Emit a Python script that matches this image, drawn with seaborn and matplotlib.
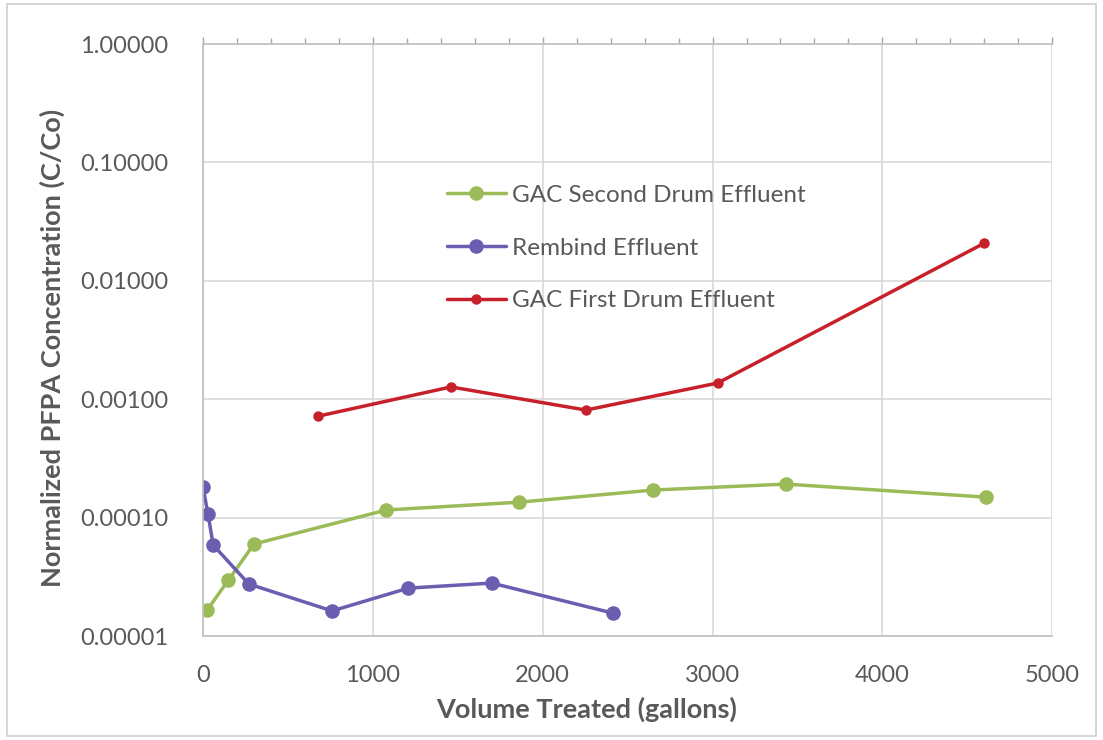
#!/usr/bin/env python3

import numpy as np
import pandas as pd
import matplotlib
matplotlib.use("Agg")
import matplotlib.pyplot as plt
from matplotlib.ticker import MultipleLocator, FixedLocator, FuncFormatter, NullLocator
from matplotlib.patches import Rectangle
import seaborn as sns

# values
gac2_volume = [25, 150, 300, 1080, 1860, 2650, 3430, 4610]
gac2_conc = [1.66e-5, 2.97e-5, 5.98e-5, 1.16e-4, 1.35e-4, 1.71e-4, 1.92e-4, 1.49e-4]

rembind_volume = [0, 30, 60, 270, 760, 1210, 1700, 2415]
rembind_conc = [1.81e-4, 1.07e-4, 5.87e-5, 2.75e-5, 1.63e-5, 2.54e-5, 2.80e-5, 1.56e-5]

gac1_volume = [680, 1460, 2255, 3030, 4600]
gac1_conc = [7.2e-4, 1.27e-3, 8.1e-4, 1.37e-3, 2.08e-2]

series_names = ["GAC Second Drum Effluent", "Rembind Effluent", "GAC First Drum Effluent"]
series_colors = ["#9BBB59", "#6A5EB0", "#C8202A"]
y_ticks = [1e-5, 1e-4, 1e-3, 1e-2, 1e-1, 1.0]
x_ticks = [0, 1000, 2000, 3000, 4000, 5000]

sns.set_theme(style="white")
plt.rcParams["font.family"] = ["Lato", "DejaVu Sans"]

fig = plt.figure(figsize=(11.03, 7.4), dpi=100)
ax = fig.add_axes([0.184, 0.1405, 0.770, 0.80])

# light frame round the whole chart
fig.patches.append(Rectangle((0.006, 0.006), 0.988, 0.988, transform=fig.transFigure,
                             fill=False, edgecolor="#D0D0D0", linewidth=1.2))

data = [
    (gac2_volume, gac2_conc, 10.5),
    (rembind_volume, rembind_conc, 10.5),
    (gac1_volume, gac1_conc, 7.5),
]
for (xs, ys, ms), name, color in zip(data, series_names, series_colors):
    df = pd.DataFrame({"volume": xs, "conc": ys})
    sns.lineplot(data=df, x="volume", y="conc", ax=ax, sort=False, color=color,
                 linewidth=2.5, marker="o", markersize=ms, markeredgewidth=0,
                 label=name)

ax.set_yscale("log")
ax.set_ylim(1e-5, 1.0)
ax.set_xlim(0, 5000)
ax.yaxis.set_major_locator(FixedLocator(y_ticks))
ax.yaxis.set_minor_locator(NullLocator())
ax.yaxis.set_major_formatter(FuncFormatter(lambda v, p: f"{v:.5f}"))
ax.xaxis.set_major_locator(FixedLocator(x_ticks))
ax.xaxis.set_minor_locator(MultipleLocator(200))

ax.grid(True, which="major", color="#D9D9D9", linewidth=1.2)
ax.set_axisbelow(True)
for side in ["left", "bottom", "top"]:
    ax.spines[side].set_color("#BFBFBF")
    ax.spines[side].set_linewidth(1.2)
ax.spines["right"].set_visible(False)

ax.tick_params(axis="y", which="both", left=False, pad=19, labelsize=17, labelcolor="#595959")
ax.tick_params(axis="x", which="both", bottom=False, top=True, direction="out",
               color="#A6A6A6", labelsize=17, labelcolor="#595959", pad=16)
ax.tick_params(axis="x", which="major", length=5, width=1)
ax.tick_params(axis="x", which="minor", length=4, width=1)

ax.set_xlabel("Volume Treated (gallons)", fontsize=19.5, fontweight="bold", color="#595959")
ax.set_ylabel("Normalized PFPA Concentration (C/Co)", fontsize=19.5, fontweight="bold", color="#595959")
ax.xaxis.set_label_coords(0.452, -0.103)
ax.yaxis.set_label_coords(-0.163, 0.486)

leg = ax.legend(loc="upper left", bbox_to_anchor=(0.287, 0.762), frameon=False,
                fontsize=17.5, labelcolor="#595959", handlelength=2.45,
                handletextpad=0.25, labelspacing=1.3, borderpad=0, borderaxespad=0)

fig.savefig("out.png", dpi=100)
